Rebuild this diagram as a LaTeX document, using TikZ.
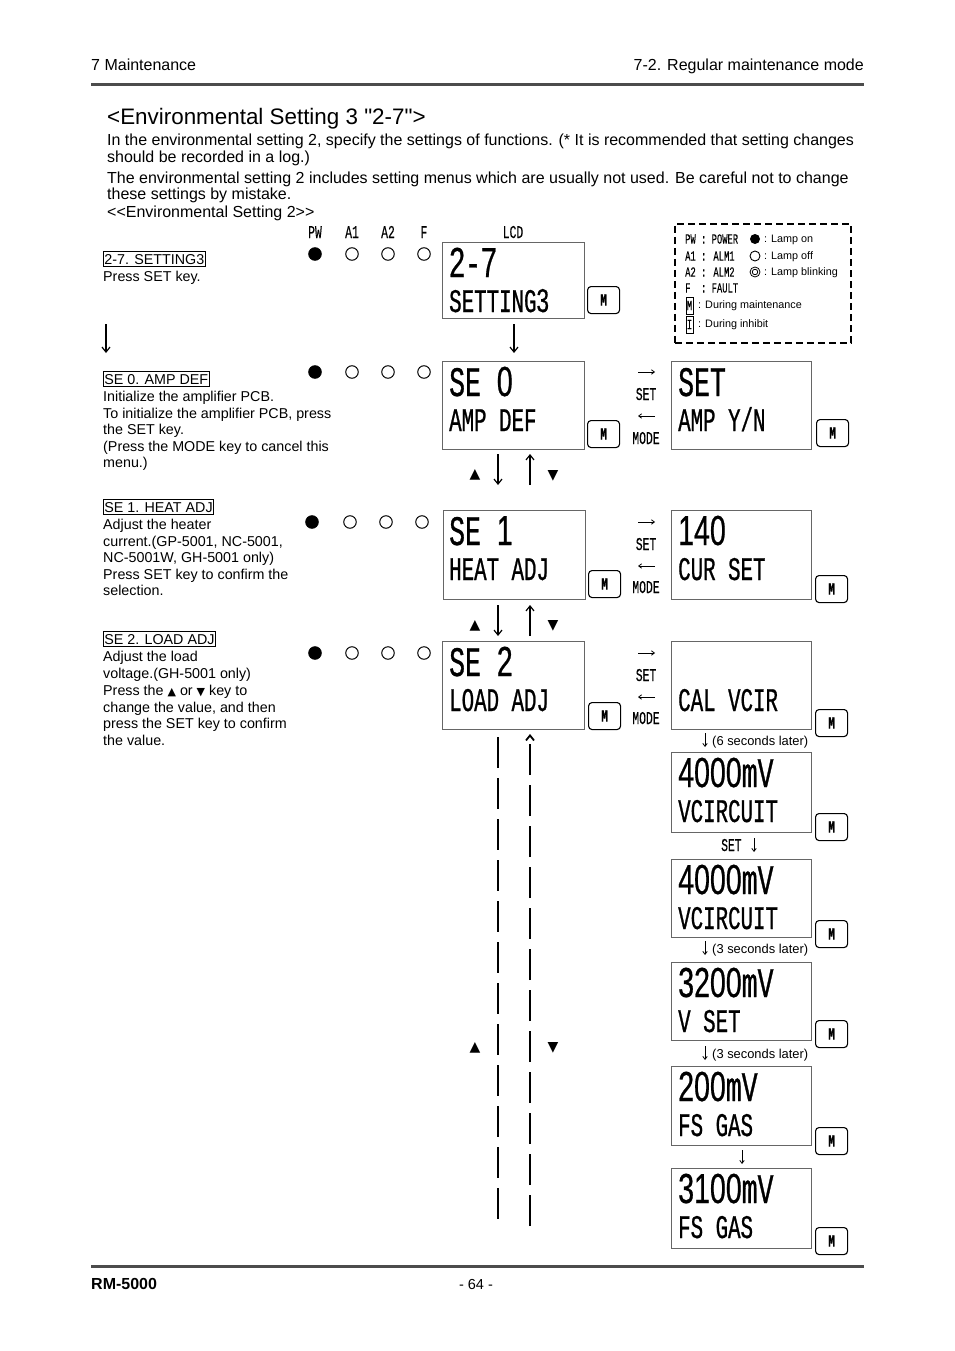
\documentclass[tikz,border=0pt]{standalone}
\usepackage{fontspec}
\setmainfont{Liberation Sans}[Ligatures=TeXOff]
\newfontfamily\lcd[FakeStretch=0.63,FakeBold=0.7]{Liberation Mono}
\newfontfamily\lcdthin[FakeStretch=0.63,FakeBold=0.2]{Liberation Mono}
\newfontfamily\lcdz[FakeStretch=0.68,FakeBold=0.5]{Liberation Sans}
\newfontfamily\sym{DejaVu Sans}
\newcommand\dg[1]{{\lcdz #1}}
\usetikzlibrary{arrows.meta}
\begin{document}
\begin{tikzpicture}[x=1pt,y=-1pt,
 body/.style={anchor=base west, inner sep=0, font=\fontsize{14.3}{16}\selectfont},
 para/.style={anchor=base west, inner sep=0, font=\fontsize{16}{17}\selectfont},
 ttl/.style={draw, line width=0.7pt, inner xsep=1pt, inner ysep=2.6pt, anchor=base west, font=\fontsize{14.3}{16}\selectfont},
 lcdb/.style={anchor=base west, inner sep=0, font=\lcd\fontsize{42}{42}\selectfont},
 lcds/.style={anchor=base west, inner sep=0, font=\lcd\fontsize{33}{33}\selectfont},
 lcdl/.style={anchor=base, inner sep=0, font=\lcdthin\fontsize{18}{18}\selectfont},
 screen/.style={draw=black!60, line width=0.9pt, anchor=north west, inner sep=0, minimum width=142pt},
 rscreen/.style={screen, minimum width=140pt},
 mkey/.style={draw, line width=1.1pt, rounded corners=3.5pt, anchor=north west, minimum width=32pt, minimum height=27pt, inner sep=0, font=\lcd\bfseries\fontsize{17}{17}\selectfont},
 lampon/.style={circle, fill=black, draw, line width=1pt, minimum size=12.5pt, inner sep=0},
 lampoff/.style={circle, draw, line width=1pt, minimum size=12.5pt, inner sep=0},
 bigarr/.style={-{Straight Barb[length=5pt,width=8pt]}, line width=1.2pt},
 smarr/.style={-{Straight Barb[length=3pt,width=4.5pt]}, line width=0.8pt},
 hor/.style={-{Straight Barb[length=3pt,width=4.5pt]}, line width=0.8pt},
 tri/.style={inner sep=0, font=\sym\fontsize{14}{14}\selectfont},
 dash31/.style={dash pattern=on 31pt off 10pt, line width=1.8pt},
 small/.style={anchor=base west, inner sep=0, font=\fontsize{12.9}{14}\selectfont},
 legt/.style={anchor=west, inner sep=0, font=\fontsize{10.8}{12}\selectfont},
 legl/.style={anchor=west, inner sep=0, font=\lcdthin\fontsize{14}{14}\selectfont}
]
\useasboundingbox (0,0) rectangle (954,1351);
\fill[white] (0,0) rectangle (954,1351);

% header / footer
\node[anchor=base west, inner sep=0, font=\fontsize{16}{16}\selectfont] (hl) at (91,71) {7 Maintenance};
\node[anchor=base east, inner sep=0, font=\fontsize{16}{16}\selectfont] (hr) at (864,71) {7-2. Regular maintenance mode};
\draw[line width=3pt, black!70] (91,84.5) -- (864,84.5);
\draw[line width=3pt, black!70] (91,1266.5) -- (864,1266.5);
\node[anchor=base west, inner sep=0, font=\bfseries\fontsize{16}{16}\selectfont] (fl) at (91,1289) {RM-5000};
\node[anchor=base, inner sep=0, font=\fontsize{14.5}{16}\selectfont] (fc) at (476,1289) {- 64 -};

% title and paragraph
\node[anchor=base west, inner sep=0, font=\fontsize{22.4}{24}\selectfont] (title) at (107,125) {<Environmental Setting 3 "2-7">};
\node[para] (p1) at (107,146) {In the environmental setting 2, specify the settings of functions. (* It is recommended that setting changes};
\node[para] (p2) at (107,163) {should be recorded in a log.)};
\node[para] (p3) at (107,183) {The environmental setting 2 includes setting menus which are usually not used. Be careful not to change};
\node[para] (p4) at (107,200) {these settings by mistake.};
\node[para] (p5) at (107,218) {<<Environmental Setting 2>>};

% lamp labels
\node[lcdl] (lpw) at (315,238) {PW};
\node[lcdl] (la1) at (352,238) {A1};
\node[lcdl] (la2) at (388,238) {A2};
\node[lcdl] (lf) at (424,238) {F};
\node[lcdl] (llcd) at (513,238) {LCD};

% ---------- row 1
\node[ttl] (t1) at (103,264) {2-7. SETTING3};
\node[body] (t1a) at (103,281) {Press SET key.};
\node[lampon] (r1a) at (315,254) {};
\node[lampoff] (r1b) at (352,254) {};
\node[lampoff] (r1c) at (388,254) {};
\node[lampoff] (r1d) at (424,254) {};
\node[screen, minimum height=76pt] (s1) at (442,242) {};
\node[lcdb] (s1a) at (449,277) {\dg{2}-\dg{7}};
\node[lcds] (s1b) at (449,312) {SETTING\dg{3}};
\node[mkey] (m1) at (587,286) {M};
\coordinate (a1s) at (514,324); \coordinate (a1e) at (514,353);
\draw[bigarr] (a1s) -- (a1e);
\coordinate (a0s) at (106,324); \coordinate (a0e) at (106,353);
\draw[bigarr] (a0s) -- (a0e);

% ---------- row 2
\node[ttl] (t2) at (103,384) {SE 0. AMP DEF};
\node[body] (t2a) at (103,401) {Initialize the amplifier PCB.};
\node[body] (t2b) at (103,418) {To initialize the amplifier PCB, press};
\node[body] (t2c) at (103,434) {the SET key.};
\node[body] (t2d) at (103,451) {(Press the MODE key to cancel this};
\node[body] (t2e) at (103,467) {menu.)};
\node[lampon] (r2a) at (315,372) {};
\node[lampoff] (r2b) at (352,372) {};
\node[lampoff] (r2c) at (388,372) {};
\node[lampoff] (r2d) at (424,372) {};
\node[screen, minimum height=88pt] (s2) at (442,361) {};
\node[lcdb] (s2a) at (449,396) {SE \dg{0}};
\node[lcds] (s2b) at (449,431) {AMP DEF};
\node[mkey] (m2) at (587,420) {M};
\coordinate (h2a) at (638,372); \coordinate (h2b) at (655,372);
\draw[hor] (h2a) -- (h2b);
\node[lcdl] (set2) at (646,400) {SET};
\coordinate (h2c) at (655,416); \coordinate (h2d) at (638,416);
\draw[hor] (h2c) -- (h2d);
\node[lcdl] (mode2) at (646,444) {MODE};
\node[rscreen, minimum height=88pt] (q2) at (671,361) {};
\node[lcdb] (q2a) at (678,396) {SET};
\node[lcds] (q2b) at (678,431) {AMP Y/N};
\node[mkey] (n2) at (816,419) {M};
% arrows 2-3
\node[tri] (u23) at (475,475) {▲};
\coordinate (d23s) at (498,454); \coordinate (d23e) at (498,485);
\draw[bigarr] (d23s) -- (d23e);
\coordinate (u23s) at (530,485); \coordinate (u23e) at (530,454);
\draw[bigarr] (u23s) -- (u23e);
\node[tri] (v23) at (553,476) {▼};

% ---------- row 3
\node[ttl] (t3) at (103,512) {SE 1. HEAT ADJ};
\node[body] (t3a) at (103,529) {Adjust the heater};
\node[body] (t3b) at (103,546) {current.(GP-5001, NC-5001,};
\node[body] (t3c) at (103,562) {NC-5001W, GH-5001 only)};
\node[body] (t3d) at (103,579) {Press SET key to confirm the};
\node[body] (t3e) at (103,595) {selection.};
\node[lampon] (r3a) at (312,522) {};
\node[lampoff] (r3b) at (350,522) {};
\node[lampoff] (r3c) at (386,522) {};
\node[lampoff] (r3d) at (422,522) {};
\node[screen, minimum height=89pt] (s3) at (443,510) {};
\node[lcdb] (s3a) at (449,545) {SE \dg{1}};
\node[lcds] (s3b) at (449,580) {HEAT ADJ};
\node[mkey] (m3) at (588,570) {M};
\coordinate (h3a) at (638,522); \coordinate (h3b) at (655,522);
\draw[hor] (h3a) -- (h3b);
\node[lcdl] (set3) at (646,550) {SET};
\coordinate (h3c) at (655,566); \coordinate (h3d) at (638,566);
\draw[hor] (h3c) -- (h3d);
\node[lcdl] (mode3) at (646,593) {MODE};
\node[rscreen, minimum height=89pt] (q3) at (671,510) {};
\node[lcdb] (q3a) at (678,545) {\dg{140}};
\node[lcds] (q3b) at (678,580) {CUR SET};
\node[mkey] (n3) at (815,575) {M};
% arrows 3-4
\node[tri] (u34) at (475,626) {▲};
\coordinate (d34s) at (498,605); \coordinate (d34e) at (498,636);
\draw[bigarr] (d34s) -- (d34e);
\coordinate (u34s) at (530,636); \coordinate (u34e) at (530,605);
\draw[bigarr] (u34s) -- (u34e);
\node[tri] (v34) at (553,626) {▼};

% ---------- row 4
\node[ttl] (t4) at (103,644) {SE 2. LOAD ADJ};
\node[body] (t4a) at (103,661) {Adjust the load};
\node[body] (t4b) at (103,678) {voltage.(GH-5001 only)};
\node[body] (t4c) at (103,695) {Press the {\sym\fontsize{11}{11}\selectfont ▲} or {\sym\fontsize{11}{11}\selectfont ▼} key to};
\node[body] (t4d) at (103,712) {change the value, and then};
\node[body] (t4e) at (103,728) {press the SET key to confirm};
\node[body] (t4f) at (103,745) {the value.};
\node[lampon] (r4a) at (315,653) {};
\node[lampoff] (r4b) at (352,653) {};
\node[lampoff] (r4c) at (388,653) {};
\node[lampoff] (r4d) at (424,653) {};
\node[screen, minimum height=88pt] (s4) at (442,641) {};
\node[lcdb] (s4a) at (449,676) {SE \dg{2}};
\node[lcds] (s4b) at (449,711) {LOAD ADJ};
\node[mkey] (m4) at (588,702) {M};
\coordinate (h4a) at (638,653); \coordinate (h4b) at (655,653);
\draw[hor] (h4a) -- (h4b);
\node[lcdl] (set4) at (646,681) {SET};
\coordinate (h4c) at (655,697); \coordinate (h4d) at (638,697);
\draw[hor] (h4c) -- (h4d);
\node[lcdl] (mode4) at (646,724) {MODE};
\node[rscreen, minimum height=88pt] (q4) at (671,641) {};
\node[lcds] (q4b) at (678,711) {CAL VCIR};
\node[mkey] (n4) at (815,709) {M};

% dashed return lines
\coordinate (dl1) at (498,737); \coordinate (dl2) at (498,1226);
\draw[dash31] (dl1) -- (dl2);
\coordinate (dr1) at (530,1226); \coordinate (dr2) at (530,734);
\draw[dash31, -{Straight Barb[length=5pt,width=8pt]}] (dr1) -- (dr2);
\node[tri] (u45) at (475,1048) {▲};
\node[tri] (v45) at (553,1048) {▼};

% right chain
\coordinate (c1s) at (705,733); \coordinate (c1e) at (705,747);
\draw[smarr] (c1s) -- (c1e);
\node[small] (c1t) at (712,745) {(6 seconds later)};
\node[rscreen, minimum height=80pt] (q5) at (671,752) {};
\node[lcdb] (q5a) at (678,787) {\dg{4000}mV};
\node[lcds] (q5b) at (678,822) {VCIRCUIT};
\node[mkey] (n5) at (815,813) {M};
\node[lcdl, anchor=base west] (c2t) at (721,851) {SET};
\coordinate (c2s) at (754,838); \coordinate (c2e) at (754,852);
\draw[smarr] (c2s) -- (c2e);
\node[rscreen, minimum height=78pt] (q6) at (671,859) {};
\node[lcdb] (q6a) at (678,894) {\dg{4000}mV};
\node[lcds] (q6b) at (678,929) {VCIRCUIT};
\node[mkey] (n6) at (815,920) {M};
\coordinate (c3s) at (705,941); \coordinate (c3e) at (705,955);
\draw[smarr] (c3s) -- (c3e);
\node[small] (c3t) at (712,953) {(3 seconds later)};
\node[rscreen, minimum height=78pt] (q7) at (671,962) {};
\node[lcdb] (q7a) at (678,997) {\dg{3200}mV};
\node[lcds] (q7b) at (678,1032) {V SET};
\node[mkey] (n7) at (815,1020) {M};
\coordinate (c4s) at (705,1046); \coordinate (c4e) at (705,1060);
\draw[smarr] (c4s) -- (c4e);
\node[small] (c4t) at (712,1058) {(3 seconds later)};
\node[rscreen, minimum height=79pt] (q8) at (671,1066) {};
\node[lcdb] (q8a) at (678,1101) {\dg{200}mV};
\node[lcds] (q8b) at (678,1136) {FS GAS};
\node[mkey] (n8) at (815,1127) {M};
\coordinate (c5s) at (742,1150); \coordinate (c5e) at (742,1164);
\draw[smarr] (c5s) -- (c5e);
\node[rscreen, minimum height=80pt] (q9) at (671,1168) {};
\node[lcdb] (q9a) at (678,1203) {\dg{3100}mV};
\node[lcds] (q9b) at (678,1238) {FS GAS};
\node[mkey] (n9) at (815,1227) {M};

% legend
\node[draw, dash pattern=on 7pt off 4pt, line width=1.8pt, anchor=north west, minimum width=176pt, minimum height=119pt, inner sep=0] (leg) at (674,223) {};
\node[legl] (lg1) at (685,239) {PW : POWER};
\node[legl] (lg2) at (685,256) {A1 : ALM1};
\node[legl] (lg3) at (685,272) {A2 : ALM2};
\node[legl] (lg4) at (685,288) {F~ : FAULT};
\node[circle, fill=black, minimum size=10pt, inner sep=0] (ls1) at (755,239) {};
\node[circle, draw, line width=0.9pt, minimum size=10pt, inner sep=0] (ls2) at (755,256) {};
\node[circle, draw, line width=0.8pt, minimum size=10pt, inner sep=0] (ls3) at (755,272) {};
\node[circle, draw, line width=0.8pt, minimum size=5.5pt, inner sep=0] (ls3b) at (755,272) {};
\node[legt] (lt1) at (764,240) {: Lamp on};
\node[legt] (lt2) at (764,257) {: Lamp off};
\node[legt] (lt3) at (764,273) {: Lamp blinking};
\node[draw, line width=0.6pt, inner sep=0, minimum width=7pt, minimum height=17pt, font=\lcd\fontsize{14}{14}\selectfont] (lm) at (689.5,305.5) {M};
\node[draw, line width=0.6pt, inner sep=0, minimum width=7pt, minimum height=17pt, font=\lcdthin\fontsize{14}{14}\selectfont] (li) at (689.5,324.5) {I};
\node[legt] (lt4) at (698,306) {: During maintenance};
\node[legt] (lt5) at (698,325) {: During inhibit};
\end{tikzpicture}
\end{document}
